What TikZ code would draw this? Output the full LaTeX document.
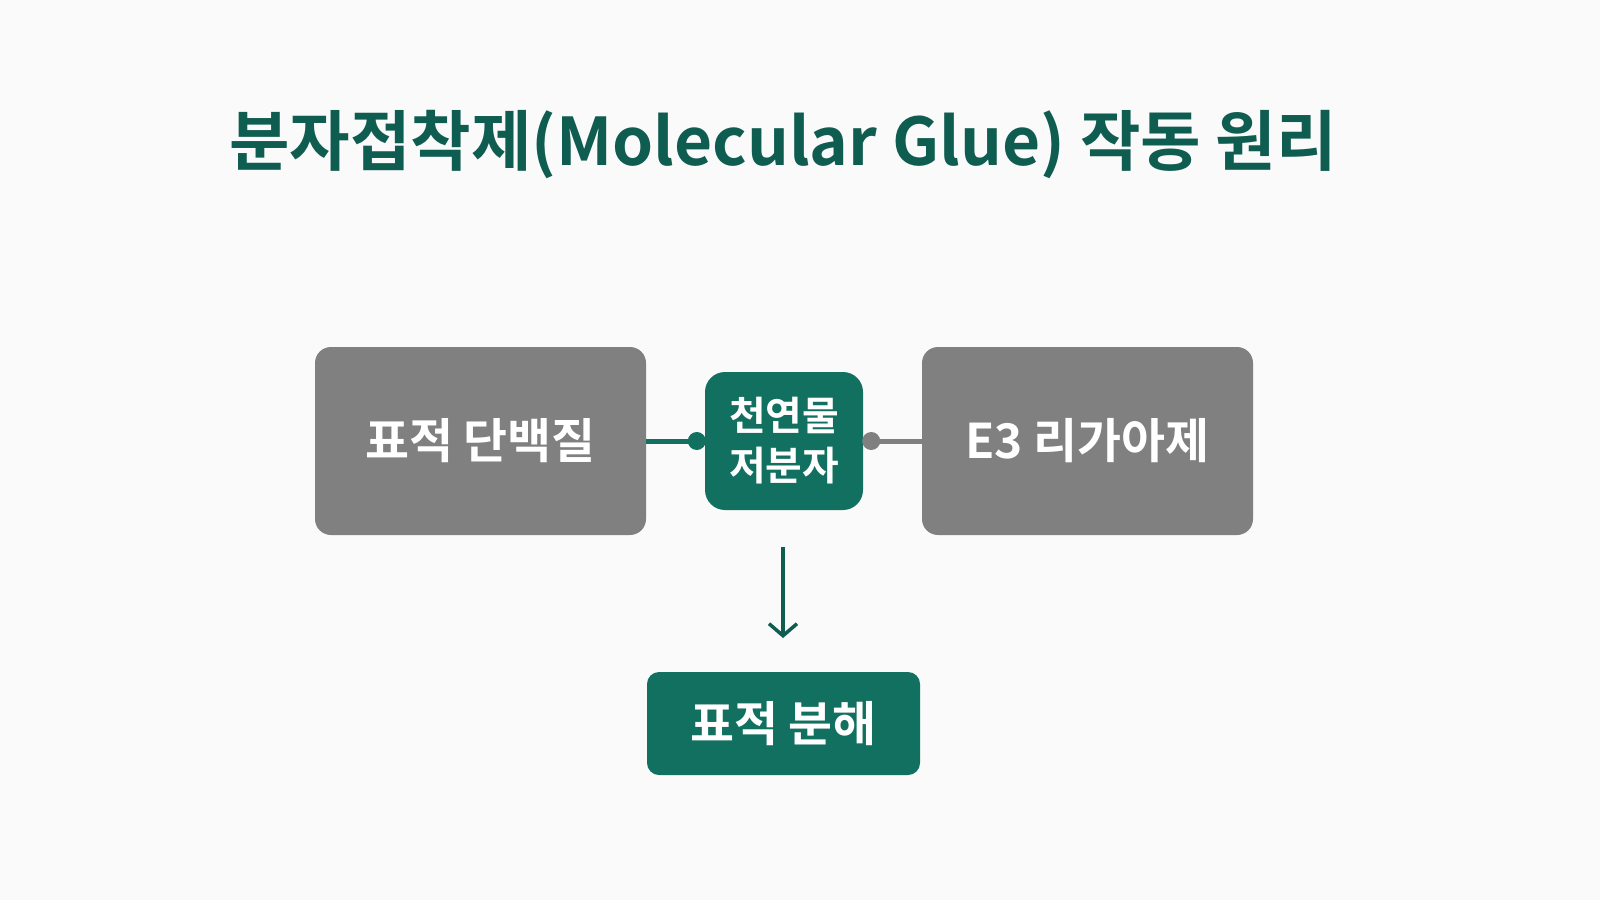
\documentclass[tikz,border=0pt]{standalone}
\usepackage{fontspec}
\newfontfamily\kr{Noto Sans CJK KR}[BoldFont={* Bold}]
\usetikzlibrary{arrows.meta}
\definecolor{teal1}{HTML}{11705F}
\definecolor{tealt}{HTML}{0F5C50}
\definecolor{gr}{HTML}{808080}
\begin{document}
\begin{tikzpicture}[x=1bp,y=-1bp,
 box/.style={rounded corners=16bp,text=white,font=\kr\bfseries,align=center,inner sep=0pt},
 gbox/.style={box,fill=gr},
 tbox/.style={box,fill=teal1}]
\fill[white!98!black] (0,0) rectangle (1600,900);
\node[font=\kr\bfseries\fontsize{66}{70}\selectfont,text=tealt] (title) at (783,145) {분자접착제(Molecular Glue) 작동 원리};
\node[gbox,minimum width=331bp,minimum height=188bp,font=\kr\bfseries\fontsize{48}{52}\selectfont] (L) at (480.5,441) {표적 단백질};
\node[gbox,minimum width=331bp,minimum height=188bp,font=\kr\bfseries\fontsize{48}{52}\selectfont] (R) at (1087.5,441) {E3 리가아제};
\node[tbox,minimum width=158bp,minimum height=138bp,rounded corners=20bp,font=\kr\bfseries\fontsize{40}{50}\selectfont] (M) at (784,441) {천연물\\저분자};
\node[tbox,minimum width=273bp,minimum height=103bp,rounded corners=12bp,font=\kr\bfseries\fontsize{48}{52}\selectfont] (B) at (783.5,723.5) {표적 분해};
\draw[teal1,line width=5bp] (L.east) -- (M.west);
\fill[teal1] ([xshift=-8bp]M.west) circle (9bp);
\draw[gr,line width=5bp] (M.east) -- (R.east -| R.west);
\fill[gr] ([xshift=8bp]M.east) circle (9bp);
\coordinate (a1) at (783,547);
\coordinate (a2) at (783,638);
\draw[tealt,line width=3.5bp,-{Straight Barb[length=12bp,width=28bp,line width=3.5bp]}] (a1) -- (a2);
\end{tikzpicture}
\end{document}
